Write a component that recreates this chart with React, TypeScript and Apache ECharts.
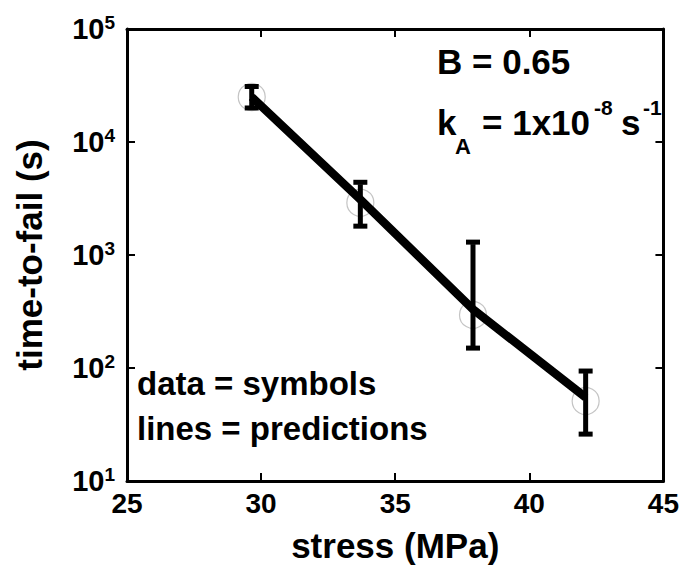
import React, { useEffect, useRef } from "react";
import * as echarts from "echarts";

const stress = [29.65, 33.7, 37.9, 42.1];
const timeData = [25000, 2900, 295, 51];
const errLow = [20000, 1800, 150, 26];
const errHigh = [31000, 4400, 1300, 94];
const predicted = [25000, 3100, 330, 55];
const xTicks = [25, 30, 35, 40, 45];
const yExponents = [1, 2, 3, 4, 5];

const FONT = "'Liberation Sans', Arial, Helvetica, sans-serif";

export default function App() {
  const ref = useRef<HTMLDivElement>(null);
  useEffect(() => {
    if (!ref.current) return;
    const chart = echarts.init(ref.current, undefined, { renderer: "svg" });
    const axisLine = { show: true, onZero: false, lineStyle: { color: "#000", width: 3 } };
    const axisTick = { show: true, inside: true, length: 8, lineStyle: { color: "#000", width: 2 } };
    const xMin = xTicks[0];
    const xMax = xTicks[xTicks.length - 1];
    const xInterval = xTicks[1] - xTicks[0];
    const yMin = Math.pow(10, yExponents[0]);
    const yMax = Math.pow(10, yExponents[yExponents.length - 1]);
    const ylab = (v: number) => `{a|10}{b|${Math.round(Math.log10(v))}}`;
    const errData = stress.map((x, i) => [x, errLow[i], errHigh[i]]);
    const T = (text: string, x: number, y: number, size: number) => ({
      type: "text",
      left: x,
      top: y,
      style: { text, fontSize: size, fontWeight: "bold", fontFamily: FONT, fill: "#000" },
    });
    chart.setOption({
      animation: false,
      backgroundColor: "#fff",
      grid: { left: 127, right: 17, top: 29, bottom: 99 },
      xAxis: [
        {
          type: "value",
          min: xMin,
          max: xMax,
          interval: xInterval,
          name: "stress (MPa)",
          nameLocation: "middle",
          nameGap: 47,
          nameTextStyle: { fontSize: 35, fontWeight: "bold", fontFamily: FONT, color: "#000" },
          axisLine,
          axisTick,
          splitLine: { show: false },
          axisLabel: { fontSize: 28, fontWeight: "bold", fontFamily: FONT, color: "#000", margin: 8 },
        },
        {
          type: "value",
          position: "top",
          min: xMin,
          max: xMax,
          interval: xInterval,
          axisLine,
          axisTick,
          splitLine: { show: false },
          axisLabel: { show: false },
        },
      ],
      yAxis: [
        {
          type: "log",
          logBase: 10,
          min: yMin,
          max: yMax,
          splitNumber: 4,
          name: "time-to-fail (s)",
          nameLocation: "middle",
          nameGap: 80,
          nameTextStyle: { fontSize: 35, fontWeight: "bold", fontFamily: FONT, color: "#000" },
          axisLine,
          axisTick,
          splitLine: { show: false },
          axisLabel: {
            margin: 12,
            formatter: ylab,
            rich: {
              a: { fontSize: 29, fontWeight: "bold", fontFamily: FONT, color: "#000", lineHeight: 32 },
              b: { fontSize: 19, fontWeight: "bold", fontFamily: FONT, color: "#000", verticalAlign: "top", lineHeight: 20 },
            },
          },
        },
        {
          type: "log",
          logBase: 10,
          position: "right",
          min: yMin,
          max: yMax,
          splitNumber: 4,
          axisLine,
          axisTick,
          splitLine: { show: false },
          axisLabel: { show: false },
        },
      ],
      series: [
        {
          type: "scatter",
          data: stress.map((x, i) => [x, timeData[i]]),
          symbol: "circle",
          symbolSize: 27,
          itemStyle: { color: "rgba(0,0,0,0)", borderColor: "#b5b5b5", borderWidth: 1.2 },
          z: 1,
        },
        {
          type: "line",
          data: stress.map((x, i) => [x, predicted[i]]),
          showSymbol: false,
          symbol: "none",
          lineStyle: { color: "#000", width: 8.5, cap: "butt", join: "miter" },
          z: 2,
        },
        {
          type: "custom",
          data: errData,
          encode: { x: 0, y: [1, 2] },
          z: 3,
          renderItem: (params: any, api: any) => {
            const x = api.value(0);
            const lo = api.coord([x, api.value(1)]);
            const hi = api.coord([x, api.value(2)]);
            const hw = 7;
            const st = { stroke: "#000", lineWidth: 5 };
            return {
              type: "group",
              children: [
                { type: "line", shape: { x1: lo[0], y1: lo[1] - 2, x2: hi[0], y2: hi[1] + 2 }, style: st },
                { type: "line", shape: { x1: lo[0] - hw, y1: lo[1], x2: lo[0] + hw, y2: lo[1] }, style: st },
                { type: "line", shape: { x1: hi[0] - hw, y1: hi[1], x2: hi[0] + hw, y2: hi[1] }, style: st },
              ],
            };
          },
        },
      ],
      graphic: [
        T("B = 0.65", 437, 44, 35),
        T("k", 437, 105, 35),
        T("A", 455, 135, 22),
        T("= 1x10", 482, 105, 35),
        T("-8", 594, 97, 21),
        T("s", 621, 105, 35),
        T("-1", 643, 97, 21),
        T("data = symbols", 137, 367, 33),
        T("lines = predictions", 137, 412, 33),
      ],
    });
    return () => chart.dispose();
  }, []);
  return <div ref={ref} style={{ position: "absolute", left: 0, top: 0, width: 682, height: 580 }} />;
}
